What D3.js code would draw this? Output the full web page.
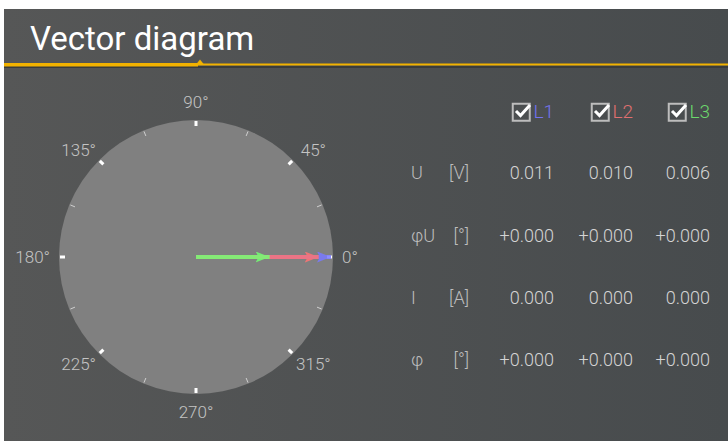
<!DOCTYPE html>
<html>
<head>
<meta charset="utf-8">
<script src="https://cdn.jsdelivr.net/npm/d3@7"></script>
<style>
  html, body { margin: 0; padding: 0; background: #fff; }
  svg { display: block; font-family: Roboto, "Noto Sans", sans-serif; }
</style>
</head>
<body>
<div id="chart"></div>
<script>
// phases and measured values
const phases = ["L1", "L2", "L3"];
const phaseColors = ["#7474f0", "#e07070", "#6cd86c"];
const vectorColors = ["#7a7aff", "#ff7474", "#74ff74"];
const uValues = [0.011, 0.010, 0.006];
const uAngles = [0, 0, 0];
const iValues = [0.000, 0.000, 0.000];
const iAngles = [0, 0, 0];
const rowNames = ["U", "φU", "I", "φ"];
const rowUnits = ["[V]", "[°]", "[A]", "[°]"];
const angleTicks = d3.range(0, 360, 22.5);
const labelAngles = [0, 45, 90, 135, 180, 225, 270, 315];

const width = 728, height = 442;
const cx = 196, cy = 257, R = 137;

const svg = d3.select('#chart').append('svg')
    .attr('width', width).attr('height', height);

const defs = svg.append('defs');
const bg = defs.append('linearGradient').attr('id', 'bg');
bg.append('stop').attr('offset', '0%').attr('stop-color', '#565757');
bg.append('stop').attr('offset', '100%').attr('stop-color', '#474b4d');

svg.append('rect')
    .attr('x', 4).attr('y', 9)
    .attr('width', width - 4).attr('height', 432)
    .attr('fill', 'url(#bg)');

// title + yellow rule
svg.append('text')
    .attr('x', 30).attr('y', 50)
    .attr('fill', '#ffffff')
    .attr('font-size', 33)
    .text('Vector diagram');

svg.append('rect').attr('x', 4).attr('y', 66).attr('width', width - 4).attr('height', 2).attr('fill', '#3a3c3d');
svg.append('rect').attr('x', 4).attr('y', 63).attr('width', 194).attr('height', 3.5).attr('fill', '#f2b200');
svg.append('rect').attr('x', 198).attr('y', 63.5).attr('width', width - 198).attr('height', 2).attr('fill', '#f2b200');
svg.append('path').attr('d', 'M196,64.5 L200,59.5 L204,64.5 Z').attr('fill', '#f2b200');

// polar dial
const angleRad = a => -a * Math.PI / 180;
const g = svg.append('g').attr('transform', `translate(${cx},${cy})`);

g.append('circle').attr('r', R).attr('fill', '#808080');

g.selectAll('.tick')
    .data(angleTicks)
    .enter()
    .append('line')
    .attr('class', 'tick')
    .attr('x1', d => Math.cos(angleRad(d)) * (R - 6))
    .attr('y1', d => Math.sin(angleRad(d)) * (R - 6))
    .attr('x2', d => Math.cos(angleRad(d)) * (R - 1))
    .attr('y2', d => Math.sin(angleRad(d)) * (R - 1))
    .attr('stroke', d => d % 45 === 0 ? '#ffffff' : '#d0d0d0')
    .attr('stroke-width', d => d % 45 === 0 ? 3 : 1);

g.selectAll('.lbl')
    .data(labelAngles)
    .enter()
    .append('text')
    .attr('class', 'lbl')
    .attr('x', d => Math.cos(angleRad(d)) * (d % 180 === 0 ? 146 : 166))
    .attr('y', d => Math.sin(angleRad(d)) * (d % 180 === 90 ? 155 : 151))
    .attr('dy', '0.35em')
    .attr('text-anchor', d => d === 0 ? 'start' : d === 180 ? 'end' : 'middle')
    .attr('fill', '#c4c4c4')
    .attr('font-size', 17)
    .attr('font-weight', 300)
    .text(d => d + '°');

// vectors
const rScale = d3.scaleLinear().domain([0, d3.max(uValues)]).range([0, R - 2]);

phases.forEach((p, i) => {
    defs.append('marker')
        .attr('id', 'arrow' + i)
        .attr('viewBox', '0 0 14 11')
        .attr('refX', 14).attr('refY', 5.5)
        .attr('markerUnits', 'userSpaceOnUse')
        .attr('markerWidth', 14).attr('markerHeight', 11)
        .attr('orient', 'auto')
        .append('path')
        .attr('d', 'M0,0 L14,5.5 L0,11 L3,5.5 Z')
        .attr('fill', vectorColors[i]);
});

const vecs = phases.map((p, i) => ({ i, v: uValues[i], a: uAngles[i] }));

g.selectAll('.vec')
    .data(vecs)
    .enter()
    .append('line')
    .attr('class', 'vec')
    .attr('x1', 0).attr('y1', 0)
    .attr('x2', d => Math.cos(angleRad(d.a)) * rScale(d.v))
    .attr('y2', d => Math.sin(angleRad(d.a)) * rScale(d.v))
    .attr('stroke', d => vectorColors[d.i])
    .attr('stroke-width', 4)
    .attr('opacity', 0.85)
    .attr('marker-end', d => `url(#arrow${d.i})`);

// table
const colRight = [554, 633, 710];
const headY = 111;

const head = svg.selectAll('.head')
    .data(phases)
    .enter()
    .append('g')
    .attr('class', 'head')
    .attr('transform', (d, i) => `translate(${colRight[i] - 42},${headY - 9})`);

head.append('rect')
    .attr('x', 0.75).attr('y', 1.75)
    .attr('width', 17).attr('height', 17)
    .attr('fill', 'none')
    .attr('stroke', '#bdbdbd')
    .attr('stroke-width', 2);
head.append('path')
    .attr('d', 'M4,9 L8.5,13.5 L18,3')
    .attr('fill', 'none')
    .attr('stroke', '#ffffff')
    .attr('stroke-width', 3);
head.append('text')
    .attr('x', 42).attr('y', 9)
    .attr('dy', '0.35em')
    .attr('text-anchor', 'end')
    .attr('font-size', 19)
    .attr('font-weight', 300)
    .attr('fill', (d, i) => phaseColors[i])
    .text(d => d);

const rowY = [173, 236, 298, 360];
const rowValues = [uValues, uAngles, iValues, iAngles];
const rowFormats = [d3.format('.3f'), d3.format('+.3f'), d3.format('.3f'), d3.format('+.3f')];

const rows = svg.selectAll('.row')
    .data(rowNames)
    .enter()
    .append('g')
    .attr('class', 'row')
    .attr('transform', (d, i) => `translate(0,${rowY[i]})`);

rows.append('text')
    .attr('x', 411).attr('dy', '0.35em')
    .attr('font-size', 18).attr('font-weight', 300).attr('fill', '#bdbdbd')
    .text(d => d);

rows.append('text')
    .attr('x', 469).attr('dy', '0.35em')
    .attr('text-anchor', 'end')
    .attr('font-size', 18).attr('font-weight', 300).attr('fill', '#bdbdbd')
    .text((d, i) => rowUnits[i]);

rows.each(function (d, r) {
    d3.select(this).selectAll('.val')
        .data(rowValues[r])
        .enter()
        .append('text')
        .attr('class', 'val')
        .attr('x', (v, i) => colRight[i])
        .attr('dy', '0.35em')
        .attr('text-anchor', 'end')
        .attr('font-size', 18)
        .attr('font-weight', 300)
        .attr('fill', '#d4d4d4')
        .text(v => rowFormats[r](v));
});
</script>
</body>
</html>
